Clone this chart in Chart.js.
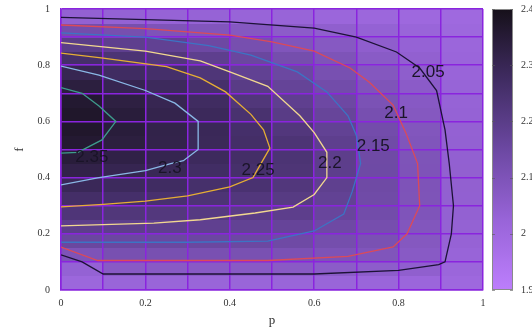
<!DOCTYPE html>
<html>
<head>
<meta charset="utf-8">
<script src="https://cdn.jsdelivr.net/npm/chart.js@4.4.1/dist/chart.umd.min.js"></script>
<style>
  html, body { margin: 0; padding: 0; background: #fff; }
</style>
</head>
<body>
<canvas id="heat" width="532" height="328"></canvas>
<script>
// heat map cells: centres in p (columns) and f (rows, bottom to top)
const pCentres = [0.05, 0.15, 0.25, 0.35, 0.45, 0.55, 0.65, 0.75, 0.85, 0.95];
const fCentres = [0.025, 0.075, 0.125, 0.175, 0.225, 0.275, 0.325, 0.375, 0.425, 0.475,
                  0.525, 0.575, 0.625, 0.675, 0.725, 0.775, 0.825, 0.875, 0.925, 0.975];

// values of each column, bottom to top
const zP05 = [2.01, 2.035, 2.1, 2.155, 2.195, 2.233, 2.265, 2.293, 2.318, 2.343, 2.358, 2.368, 2.37, 2.36, 2.335, 2.302, 2.26, 2.2, 2.128, 2.04];
const zP15 = [2.02, 2.07, 2.115, 2.154, 2.193, 2.228, 2.26, 2.284, 2.305, 2.322, 2.335, 2.342, 2.342, 2.33, 2.305, 2.275, 2.24, 2.19, 2.12, 2.035];
const zP25 = [2.02, 2.07, 2.115, 2.153, 2.19, 2.222, 2.252, 2.275, 2.295, 2.307, 2.315, 2.317, 2.312, 2.302, 2.283, 2.26, 2.225, 2.18, 2.1, 2.03];
const zP35 = [2.02, 2.07, 2.113, 2.153, 2.185, 2.213, 2.238, 2.258, 2.272, 2.283, 2.29, 2.292, 2.288, 2.276, 2.258, 2.232, 2.19, 2.148, 2.09, 2.03];
const zP45 = [2.02, 2.07, 2.112, 2.15, 2.178, 2.202, 2.225, 2.246, 2.258, 2.265, 2.265, 2.26, 2.25, 2.228, 2.205, 2.18, 2.155, 2.12, 2.078, 2.025];
const zP55 = [2.02, 2.068, 2.108, 2.142, 2.168, 2.193, 2.21, 2.225, 2.235, 2.24, 2.238, 2.225, 2.205, 2.188, 2.17, 2.152, 2.124, 2.093, 2.06, 2.025];
const zP65 = [2.02, 2.062, 2.102, 2.125, 2.145, 2.162, 2.177, 2.187, 2.193, 2.194, 2.19, 2.178, 2.165, 2.148, 2.132, 2.115, 2.098, 2.075, 2.048, 2.015];
const zP75 = [2.018, 2.055, 2.093, 2.11, 2.122, 2.132, 2.138, 2.142, 2.143, 2.142, 2.138, 2.13, 2.118, 2.107, 2.097, 2.082, 2.067, 2.05, 2.035, 2.01];
const zP85 = [2.015, 2.048, 2.07, 2.08, 2.088, 2.095, 2.098, 2.1, 2.1, 2.098, 2.093, 2.087, 2.08, 2.072, 2.063, 2.053, 2.043, 2.033, 2.022, 2.005];
const zP95 = [2.005, 2.015, 2.025, 2.032, 2.036, 2.04, 2.042, 2.043, 2.043, 2.042, 2.04, 2.037, 2.033, 2.03, 2.027, 2.023, 2.018, 2.013, 2.008, 2.0];
const zColumns = [zP05, zP15, zP25, zP35, zP45, zP55, zP65, zP75, zP85, zP95];

// contour lines
const c235p = [0, 0.05, 0.09, 0.13, 0.097, 0.04, 0];
const c235f = [0.72, 0.70, 0.655, 0.60, 0.534, 0.49, 0.487];
const c230p = [0, 0.09, 0.2, 0.27, 0.325, 0.325, 0.29, 0.26, 0.2, 0.09, 0];
const c230f = [0.797, 0.765, 0.71, 0.665, 0.60, 0.50, 0.46, 0.45, 0.425, 0.40, 0.374];
const c225p = [0, 0.1, 0.25, 0.33, 0.39, 0.45, 0.48, 0.495, 0.47, 0.455, 0.40, 0.30, 0.20, 0.1, 0];
const c225f = [0.843, 0.825, 0.795, 0.755, 0.705, 0.625, 0.57, 0.505, 0.44, 0.40, 0.367, 0.335, 0.316, 0.305, 0.296];
const c220p = [0, 0.2, 0.33, 0.4, 0.49, 0.566, 0.60, 0.63, 0.63, 0.60, 0.55, 0.46, 0.33, 0.22, 0];
const c220f = [0.88, 0.85, 0.815, 0.776, 0.725, 0.62, 0.56, 0.49, 0.40, 0.34, 0.295, 0.274, 0.25, 0.238, 0.228];
const c215p = [0, 0.2, 0.35, 0.45, 0.56, 0.63, 0.68, 0.70, 0.71, 0.69, 0.67, 0.60, 0.49, 0.3, 0];
const c215f = [0.915, 0.90, 0.87, 0.836, 0.776, 0.705, 0.62, 0.55, 0.45, 0.35, 0.27, 0.21, 0.174, 0.17, 0.17];
const c210p = [0, 0.2, 0.4, 0.5, 0.6, 0.685, 0.73, 0.787, 0.817, 0.845, 0.85, 0.82, 0.787, 0.68, 0.49, 0.087, 0];
const c210f = [0.943, 0.93, 0.907, 0.883, 0.85, 0.79, 0.74, 0.658, 0.56, 0.45, 0.30, 0.20, 0.153, 0.12, 0.105, 0.105, 0.153];
const c205p = [0, 0.2, 0.4, 0.6, 0.7, 0.795, 0.85, 0.89, 0.91, 0.92, 0.93, 0.925, 0.91, 0.895, 0.8, 0.6, 0.1, 0.05, 0];
const c205f = [0.97, 0.962, 0.954, 0.932, 0.90, 0.847, 0.79, 0.71, 0.57, 0.45, 0.30, 0.20, 0.10, 0.09, 0.07, 0.057, 0.057, 0.10, 0.125];

// contour labels and where they sit
const labelText = ['2.35', '2.3', '2.25', '2.2', '2.15', '2.1', '2.05'];
const labelP = [0.073, 0.258, 0.467, 0.637, 0.74, 0.794, 0.87];
const labelF = [0.473, 0.434, 0.427, 0.452, 0.512, 0.63, 0.776];

// colour bar range
const zMin = 1.9;
const zMax = 2.4;

const gridColour = '#8a24de';
const tickFont = { family: 'Liberation Serif', size: 10 };

// palette: light violet (low) to near black (high)
const paletteStops = [
  [188, 126, 252],
  [152, 100, 216],
  [108, 72, 162],
  [64, 44, 98],
  [22, 16, 26]
];

function heatColour(v) {
  let t = (v - zMin) / (zMax - zMin);
  t = Math.max(0, Math.min(1, t)) * (paletteStops.length - 1);
  const i = Math.min(Math.floor(t), paletteStops.length - 2);
  const k = t - i;
  const a = paletteStops[i], b = paletteStops[i + 1];
  const c = a.map((ch, n) => Math.round(ch + (b[n] - ch) * k));
  return `rgb(${c[0]},${c[1]},${c[2]})`;
}

function toPoints(ps, fs) {
  return ps.map((p, i) => ({ x: p, y: fs[i] }));
}

function oneDecimal(v) {
  return String(Math.round(v * 10) / 10);
}

// only every other grid line gets a label
function evenTick(v) {
  return Math.round(v * 10) % 2 === 0 ? oneDecimal(v) : '';
}

// keep tick padding from pushing the plot area around
function noEdgePadding(s) {
  s.paddingTop = 0;
  s.paddingBottom = 0;
  s.paddingLeft = 0;
  s.paddingRight = 0;
}

const heatPlugin = {
  id: 'heatCells',
  beforeDraw(chart) {
    const { ctx, scales: { x, y } } = chart;
    ctx.save();
    zColumns.forEach((col, i) => {
      const x0 = Math.floor(x.getPixelForValue(pCentres[i] - 0.05));
      const x1 = Math.ceil(x.getPixelForValue(pCentres[i] + 0.05));
      col.forEach((v, j) => {
        const y0 = Math.floor(y.getPixelForValue(fCentres[j] + 0.025));
        const y1 = Math.ceil(y.getPixelForValue(fCentres[j] - 0.025));
        ctx.fillStyle = heatColour(v);
        ctx.fillRect(x0, y0, x1 - x0, y1 - y0);
      });
    });
    ctx.restore();
  },
  afterDatasetsDraw(chart) {
    const { ctx, scales: { x, y } } = chart;
    ctx.save();
    ctx.font = '17px "Liberation Sans"';
    ctx.fillStyle = '#1a1428';
    ctx.textAlign = 'center';
    ctx.textBaseline = 'middle';
    labelText.forEach((t, i) => {
      ctx.fillText(t, x.getPixelForValue(labelP[i]), y.getPixelForValue(labelF[i]));
    });
    ctx.restore();
  },
  afterDraw(chart) {
    // colour bar
    const { ctx } = chart;
    const cb = chart.scales.cb;
    const left = 492, w = 21;
    const top = cb.getPixelForValue(zMax);
    const bottom = cb.getPixelForValue(zMin);
    const grad = ctx.createLinearGradient(0, bottom, 0, top);
    for (let s = 0; s <= 20; s++) {
      grad.addColorStop(s / 20, heatColour(zMin + (zMax - zMin) * s / 20));
    }
    ctx.save();
    ctx.fillStyle = grad;
    ctx.fillRect(left, top, w, bottom - top);
    ctx.strokeStyle = '#8a8a8a';
    ctx.lineWidth = 1;
    ctx.strokeRect(left + 0.5, top + 0.5, w - 1, bottom - top - 1);
    ctx.strokeStyle = 'rgba(90,90,90,0.6)';
    cb.ticks.forEach(tk => {
      const py = Math.round(cb.getPixelForValue(tk.value)) + 0.5;
      ctx.beginPath();
      ctx.moveTo(left, py); ctx.lineTo(left + 3, py);
      ctx.moveTo(left + w - 3, py); ctx.lineTo(left + w, py);
      ctx.stroke();
    });
    ctx.restore();
  }
};

const lineSet = (label, ps, fs, colour) => ({
  label,
  data: toPoints(ps, fs),
  showLine: true,
  borderColor: colour,
  borderWidth: 1.3,
  pointRadius: 0,
  tension: 0,
  fill: false,
  yAxisID: 'y'
});

new Chart(document.getElementById('heat'), {
  type: 'scatter',
  data: {
    datasets: [
      lineSet('2.05', c205p, c205f, '#1c1236'),
      lineSet('2.1', c210p, c210f, '#dc4a58'),
      lineSet('2.15', c215p, c215f, '#3c74c4'),
      lineSet('2.2', c220p, c220f, '#f2d890'),
      lineSet('2.25', c225p, c225f, '#e6ae34'),
      lineSet('2.3', c230p, c230f, '#8ab8e6'),
      lineSet('2.35', c235p, c235f, '#3e9c8c')
    ]
  },
  options: {
    responsive: false,
    animation: false,
    devicePixelRatio: 1,
    layout: { padding: { top: 9, left: 0, right: 0, bottom: 0 } },
    plugins: { legend: { display: false }, tooltip: { enabled: false } },
    scales: {
      x: {
        type: 'linear', min: 0, max: 1,
        ticks: { stepSize: 0.1, autoSkip: false, maxRotation: 0, callback: evenTick,
                 font: tickFont, color: '#333', padding: 7 },
        grid: { color: gridColour, lineWidth: 1.5, drawTicks: false },
        border: { color: gridColour, width: 1.5 },
        title: { display: true, text: 'p', color: '#333',
                 font: { family: 'Liberation Serif', size: 13 }, padding: { top: 2, bottom: 0 } },
        afterFit(s) { s.height = 38; noEdgePadding(s); }
      },
      y: {
        type: 'linear', min: 0, max: 1,
        ticks: { stepSize: 0.1, autoSkip: false, callback: evenTick,
                 font: tickFont, color: '#333', padding: 11 },
        grid: { color: gridColour, lineWidth: 1.5, drawTicks: false },
        border: { color: gridColour, width: 1.5 },
        title: { display: true, text: 'f', color: '#333',
                 font: { family: 'Liberation Serif', size: 13 }, padding: { top: 12, bottom: 0 } },
        afterFit(s) { s.width = 61; noEdgePadding(s); }
      },
      cb: {
        type: 'linear', position: 'right', min: zMin, max: zMax,
        ticks: { stepSize: 0.1, callback: oneDecimal, font: tickFont, color: '#333', padding: 38 },
        grid: { display: false, drawTicks: false },
        border: { display: false },
        afterFit(s) { s.width = 49; noEdgePadding(s); }
      }
    }
  },
  plugins: [heatPlugin]
});
</script>
</body>
</html>
